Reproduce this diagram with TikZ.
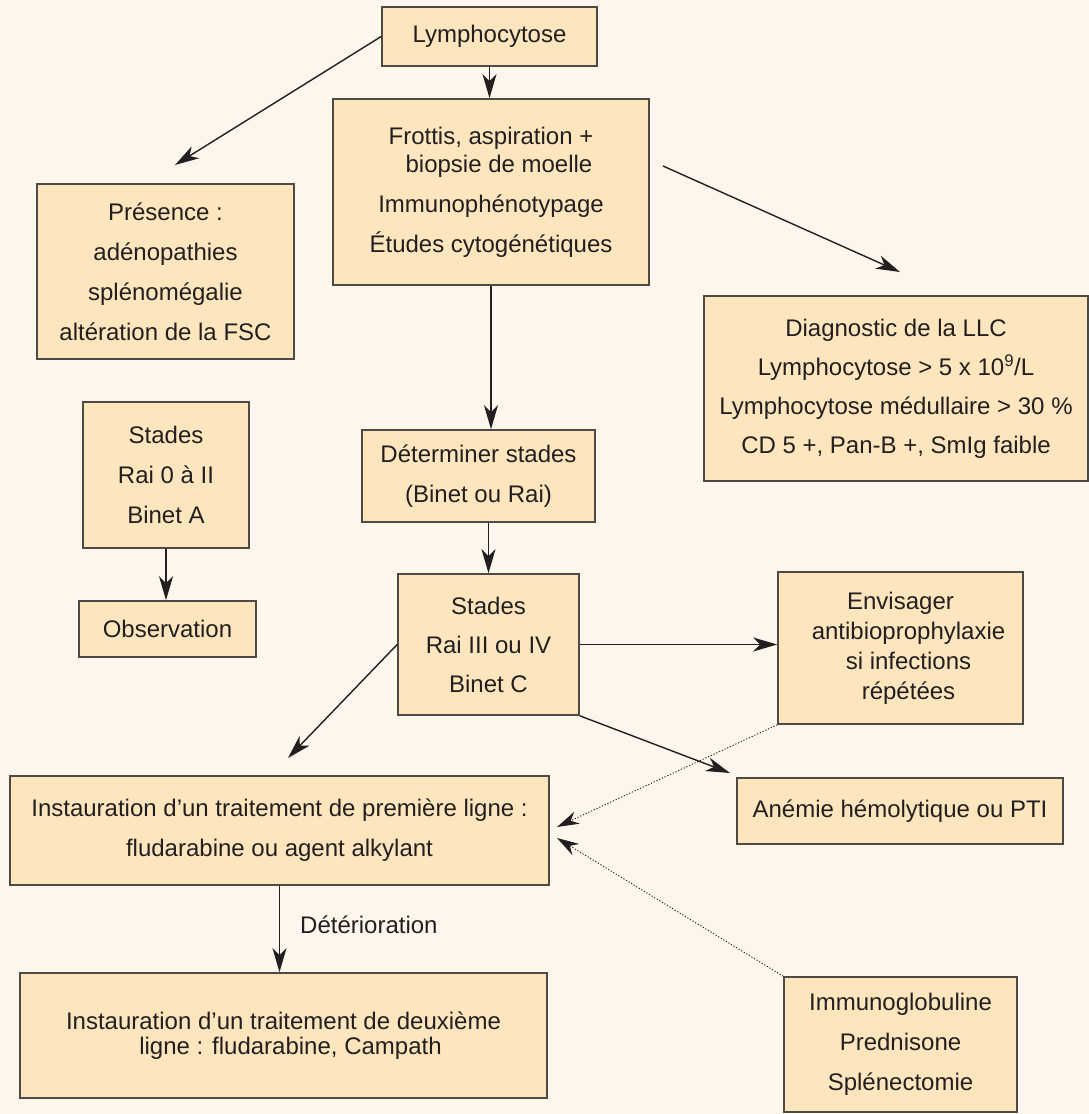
\documentclass[tikz,border=0pt]{standalone}
\usepackage{fontspec}
\setmainfont{Liberation Sans}
\usetikzlibrary{arrows.meta}
\definecolor{bgc}{HTML}{FDF6EC}
\definecolor{boxfill}{HTML}{FDE5BD}
\definecolor{boxline}{HTML}{4F4A45}
\definecolor{ink}{HTML}{231F20}
\tikzset{
  box/.style={draw=boxline, line width=1.6pt, fill=boxfill, inner sep=0pt,
    align=center, text=ink, font=\fontsize{24}{28}\selectfont},
  arr/.style={draw=ink, line width=1.4pt,
    -{Stealth[length=24pt,width=14pt,inset=7pt]}},
  darr/.style={draw=ink, line width=0.9pt, dash pattern=on 1.2pt off 1.8pt,
    -{Stealth[length=22pt,width=13pt,inset=7pt]}},
  lbl/.style={text=ink, font=\fontsize{24}{28}\selectfont, inner sep=0pt}
}
\begin{document}
\begin{tikzpicture}[x=1pt,y=-1pt]
\fill[bgc] (0,0) rectangle (1089,1114);
\useasboundingbox (0,0) rectangle (1089,1114);

\node[box, minimum width=215pt, minimum height=59pt] (lym) at (489.5,36.5) {Lymphocytose};
\node[box, minimum width=316pt, minimum height=186pt] (frot) at (491,192)
  {Frottis, aspiration +\\\hspace*{16pt}biopsie de moelle\\[12pt]Immunophénotypage\\[12pt]Études cytogénétiques};
\node[box, minimum width=257pt, minimum height=175pt] (pres) at (165.5,271.5)
  {Présence :\\[12pt]adénopathies\\[12pt]splénomégalie\\[12pt]altération de la FSC};
\node[box, minimum width=384pt, minimum height=185pt] (diag) at (896,388.5)
  {Diagnostic de la LLC\\[11pt]Lymphocytose > 5 x 10\textsuperscript{9}/L\\[11pt]Lymphocytose médullaire > 30 \%\\[11pt]CD 5 +, Pan-B +, SmIg faible};
\node[box, minimum width=166pt, minimum height=146pt] (st0) at (166,475)
  {Stades\\[12pt]Rai 0 à II\\[12pt]Binet A};
\node[box, minimum width=177pt, minimum height=56pt] (obs) at (167.5,629) {Observation};
\node[box, minimum width=233pt, minimum height=92pt] (det) at (478.5,476)
  {Déterminer stades\\[12pt](Binet ou Rai)};
\node[box, minimum width=181pt, minimum height=141pt] (st3) at (488.5,644.5)
  {Stades\\[11pt]Rai III ou IV\\[11pt]Binet C};
\node[box, minimum width=245pt, minimum height=152pt] (env) at (900.5,648)
  {Envisager\\[2pt]\hspace*{16pt}antibioprophylaxie\\[2pt]\hspace*{16pt}si infections\\[2pt]\hspace*{16pt}répétées};
\node[box, minimum width=326pt, minimum height=66pt] (ane) at (900,811)
  {Anémie hémolytique ou PTI};
\node[box, minimum width=539pt, minimum height=109pt] (ins1) at (279.5,830.5)
  {Instauration d’un traitement de première ligne :\\[12pt]fludarabine ou agent alkylant};
\node[box, minimum width=527pt, minimum height=125pt] (ins2) at (283.5,1035.5)
  {Instauration d’un traitement de deuxième\\[-3pt]\hspace*{14pt}ligne : fludarabine, Campath};
\node[box, minimum width=233pt, minimum height=135pt] (imm) at (900.5,1044.5)
  {Immunoglobuline\\[12pt]Prednisone\\[12pt]Splénectomie};

\coordinate (tPres) at (175,165);
\coordinate (sDiag) at (663,166);
\coordinate (tDiag) at (900,272);
\coordinate (tIns) at (288,758);
\coordinate (tAne) at (730,773);
\coordinate (tEnv) at (557,827);
\coordinate (tImm) at (557,838);

\draw[arr] (lym.west) -- (tPres);
\draw[arr] (lym.south) -- (lym.south |- frot.north);
\draw[arr] (sDiag) -- (tDiag);
\draw[arr] (frot.south) -- (frot.south |- det.north);
\draw[arr] (st3.north |- det.south) -- (st3.north);
\draw[arr] (st0.south) -- (st0.south |- obs.north);
\draw[arr] (st3.east) -- (st3.east -| env.west);
\draw[arr] (st3.west) -- (tIns);
\draw[arr] (st3.south east) -- (tAne);
\draw[darr] (env.south west) -- (tEnv);
\draw[darr] (imm.north west) -- (tImm);
\draw[arr] (ins1.south) -- (ins1.south |- ins2.north)
  node[lbl, pos=0.45, anchor=west, xshift=20pt] (det2) {Détérioration};
\end{tikzpicture}
\end{document}
